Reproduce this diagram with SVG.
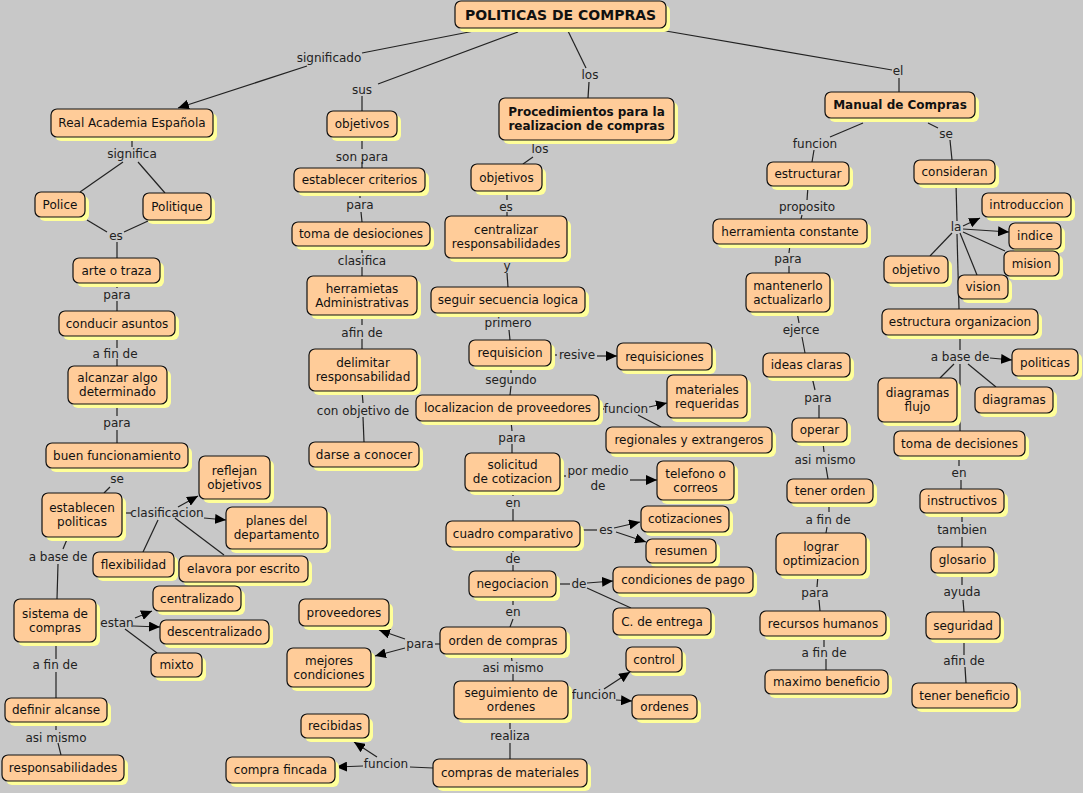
<svg xmlns="http://www.w3.org/2000/svg" width="1083" height="793" viewBox="0 0 1083 793">
<defs>
<style>
.sh{fill:#ffff99}
.bx{fill:#ffcc99;stroke:#111;stroke-width:1.2}
.t{font-family:"DejaVu Sans",Verdana,sans-serif;font-size:12px;fill:#111;text-anchor:middle}
.b{font-weight:bold}
.l{font-family:"DejaVu Sans",Verdana,sans-serif;font-size:12px;fill:#222;text-anchor:middle}
.c line{stroke:#222;stroke-width:1.2}
.a{marker-end:url(#ah)}
</style>
<marker id="ah" markerUnits="userSpaceOnUse" markerWidth="12" markerHeight="10" refX="11" refY="5" orient="auto" viewBox="0 0 12 10"><path d="M0,0 L11,5 L0,10 z" fill="#000"/></marker>
</defs>
<rect x="0" y="0" width="1083" height="793" fill="#c8c8c8"/>

<g id="connectors" class="c">
<line x1="474" y1="31" x2="362" y2="53"/>
<line class="a" x1="307" y1="66" x2="178" y2="108"/>
<line x1="518" y1="32" x2="378" y2="84"/>
<line x1="362" y1="96" x2="362" y2="111"/>
<line x1="568" y1="31" x2="586" y2="68"/>
<line x1="589" y1="82" x2="588" y2="98"/>
<line x1="660" y1="30" x2="892" y2="70"/>
<line x1="899" y1="78" x2="899" y2="92"/>
<!-- col1 -->
<line x1="132" y1="137" x2="132" y2="147"/>
<line x1="123" y1="162" x2="80" y2="192"/>
<line x1="138" y1="162" x2="165" y2="193"/>
<line x1="87" y1="220" x2="107" y2="232"/>
<line x1="148" y1="221" x2="124" y2="232"/>
<line x1="117" y1="242" x2="117" y2="258"/>
<line x1="117" y1="283" x2="117" y2="288"/>
<line x1="117" y1="301" x2="117" y2="311"/>
<line x1="117" y1="336" x2="117" y2="348"/>
<line x1="117" y1="359" x2="117" y2="366"/>
<line x1="117" y1="404" x2="117" y2="416"/>
<line x1="117" y1="430" x2="117" y2="443"/>
<line x1="117" y1="468" x2="117" y2="472"/>
<line x1="110" y1="487" x2="104" y2="493"/>
<line x1="122" y1="513" x2="131" y2="513"/>
<line class="a" x1="178" y1="507" x2="198" y2="496"/>
<line class="a" x1="204" y1="518" x2="226" y2="520"/>
<line x1="158" y1="520" x2="143" y2="552"/>
<line x1="175" y1="518" x2="224" y2="555"/>
<line x1="68" y1="537" x2="63" y2="549"/>
<line x1="58" y1="564" x2="57" y2="599"/>
<line class="a" x1="135" y1="618" x2="152" y2="611"/>
<line class="a" x1="133" y1="626" x2="160" y2="627"/>
<line x1="125" y1="629" x2="157" y2="653"/>
<line x1="56" y1="642" x2="56" y2="659"/>
<line x1="56" y1="672" x2="56" y2="698"/>
<line x1="56" y1="722" x2="56" y2="730"/>
<line x1="58" y1="743" x2="61" y2="755"/>
<!-- col2 -->
<line x1="362" y1="137" x2="362" y2="149"/>
<line x1="362" y1="162" x2="362" y2="168"/>
<line x1="360" y1="192" x2="360" y2="198"/>
<line x1="361" y1="212" x2="362" y2="222"/>
<line x1="362" y1="246" x2="362" y2="253"/>
<line x1="362" y1="267" x2="362" y2="276"/>
<line x1="362" y1="315" x2="362" y2="325"/>
<line x1="362" y1="339" x2="362" y2="349"/>
<line x1="362" y1="391" x2="363" y2="403"/>
<line x1="363" y1="417" x2="364" y2="442"/>
<!-- col3 -->
<line x1="542" y1="140" x2="542" y2="143"/>
<line x1="533" y1="157" x2="523" y2="164"/>
<line x1="507" y1="191" x2="507" y2="200"/>
<line x1="507" y1="212" x2="507" y2="216"/>
<line x1="507" y1="258" x2="507" y2="262"/>
<line x1="507" y1="273" x2="508" y2="287"/>
<line x1="508" y1="313" x2="508" y2="316"/>
<line x1="509" y1="330" x2="510" y2="340"/>
<line x1="551" y1="355" x2="557" y2="355"/>
<line class="a" x1="597" y1="356" x2="617" y2="356"/>
<line x1="511" y1="366" x2="511" y2="373"/>
<line x1="511" y1="386" x2="510" y2="395"/>
<line x1="599" y1="409" x2="604" y2="409"/>
<line class="a" x1="649" y1="407" x2="667" y2="403"/>
<line x1="638" y1="415" x2="661" y2="427"/>
<line x1="511" y1="421" x2="512" y2="431"/>
<line x1="512" y1="444" x2="512" y2="453"/>
<line x1="560" y1="476" x2="566" y2="476"/>
<line class="a" x1="630" y1="480" x2="657" y2="480"/>
<line x1="513" y1="491" x2="513" y2="496"/>
<line x1="513" y1="509" x2="513" y2="521"/>
<line x1="580" y1="530" x2="597" y2="530"/>
<line class="a" x1="614" y1="528" x2="640" y2="522"/>
<line class="a" x1="616" y1="532" x2="646" y2="542"/>
<line x1="513" y1="547" x2="513" y2="552"/>
<line x1="513" y1="565" x2="513" y2="571"/>
<line x1="556" y1="584" x2="570" y2="584"/>
<line class="a" x1="587" y1="583" x2="613" y2="581"/>
<line x1="587" y1="588" x2="631" y2="608"/>
<line x1="513" y1="597" x2="513" y2="605"/>
<line x1="513" y1="619" x2="510" y2="627"/>
<line x1="435" y1="644" x2="440" y2="644"/>
<line class="a" x1="405" y1="639" x2="379" y2="630"/>
<line class="a" x1="405" y1="648" x2="375" y2="656"/>
<line x1="511" y1="654" x2="512" y2="661"/>
<line x1="513" y1="674" x2="513" y2="681"/>
<line x1="568" y1="695" x2="571" y2="695"/>
<line class="a" x1="604" y1="689" x2="630" y2="672"/>
<line class="a" x1="616" y1="700" x2="632" y2="701"/>
<line x1="510" y1="719" x2="510" y2="729"/>
<line x1="510" y1="743" x2="510" y2="759"/>
<line x1="433" y1="768" x2="410" y2="767"/>
<line class="a" x1="363" y1="766" x2="336" y2="767"/>
<line class="a" x1="377" y1="757" x2="354" y2="742"/>
<!-- col4 -->
<line x1="863" y1="123" x2="830" y2="137"/>
<line x1="814" y1="150" x2="812" y2="162"/>
<line x1="928" y1="123" x2="938" y2="128"/>
<line x1="950" y1="140" x2="952" y2="160"/>
<line x1="808" y1="186" x2="807" y2="200"/>
<line x1="802" y1="215" x2="801" y2="219"/>
<line x1="790" y1="244" x2="789" y2="253"/>
<line x1="789" y1="266" x2="789" y2="273"/>
<line x1="797" y1="312" x2="799" y2="323"/>
<line x1="802" y1="337" x2="805" y2="353"/>
<line x1="812" y1="377" x2="815" y2="390"/>
<line x1="819" y1="405" x2="819" y2="418"/>
<line x1="823" y1="442" x2="824" y2="452"/>
<line x1="826" y1="467" x2="828" y2="479"/>
<line x1="829" y1="503" x2="829" y2="512"/>
<line x1="827" y1="527" x2="826" y2="533"/>
<line x1="818" y1="575" x2="817" y2="587"/>
<line x1="819" y1="600" x2="820" y2="611"/>
<line x1="824" y1="636" x2="824" y2="647"/>
<line x1="826" y1="659" x2="826" y2="670"/>
<line x1="956" y1="184" x2="957" y2="221"/>
<line class="a" x1="963" y1="226" x2="980" y2="218"/>
<line class="a" x1="963" y1="229" x2="1009" y2="232"/>
<line x1="963" y1="232" x2="1005" y2="251"/>
<line x1="952" y1="233" x2="930" y2="256"/>
<line x1="960" y1="233" x2="977" y2="275"/>
<line x1="957" y1="234" x2="959" y2="309"/>
<line x1="960" y1="335" x2="960" y2="350"/>
<line class="a" x1="990" y1="358" x2="1012" y2="360"/>
<line x1="954" y1="364" x2="940" y2="378"/>
<line x1="968" y1="364" x2="996" y2="387"/>
<line x1="960" y1="364" x2="960" y2="431"/>
<line x1="959" y1="456" x2="959" y2="466"/>
<line x1="961" y1="480" x2="961" y2="489"/>
<line x1="962" y1="513" x2="962" y2="522"/>
<line x1="962" y1="537" x2="962" y2="547"/>
<line x1="962" y1="573" x2="962" y2="585"/>
<line x1="963" y1="600" x2="964" y2="612"/>
<line x1="964" y1="639" x2="964" y2="655"/>
<line x1="965" y1="667" x2="966" y2="683"/>
</g>

<g id="labels">
<text class="l" x="329" y="62">significado</text>
<text class="l" x="362" y="94">sus</text>
<text class="l" x="590" y="79">los</text>
<text class="l" x="898" y="75">el</text>
<text class="l" x="132" y="158">significa</text>
<text class="l" x="116" y="240">es</text>
<text class="l" x="117" y="299">para</text>
<text class="l" x="115" y="358">a fin de</text>
<text class="l" x="117" y="427">para</text>
<text class="l" x="117" y="483">se</text>
<text class="l" x="167" y="517">clasificacion</text>
<text class="l" x="58" y="561">a base de</text>
<text class="l" x="117" y="627">estan</text>
<text class="l" x="55" y="669">a fin de</text>
<text class="l" x="56" y="742">asi mismo</text>
<text class="l" x="362" y="161">son para</text>
<text class="l" x="360" y="209">para</text>
<text class="l" x="362" y="265">clasifica</text>
<text class="l" x="362" y="337">afin de</text>
<text class="l" x="363" y="415">con objetivo de</text>
<text class="l" x="540" y="153">los</text>
<text class="l" x="506" y="211">es</text>
<text class="l" x="507" y="270">y</text>
<text class="l" x="508" y="327">primero</text>
<text class="l" x="577" y="359">resive</text>
<text class="l" x="511" y="384">segundo</text>
<text class="l" x="626" y="413">funcion</text>
<text class="l" x="512" y="442">para</text>
<text class="l" x="598" y="475">por medio</text>
<text class="l" x="598" y="490">de</text>
<text class="l" x="513" y="507">en</text>
<text class="l" x="606" y="534">es</text>
<text class="l" x="513" y="563">de</text>
<text class="l" x="579" y="588">de</text>
<text class="l" x="513" y="616">en</text>
<text class="l" x="420" y="648">para</text>
<text class="l" x="513" y="672">asi mismo</text>
<text class="l" x="594" y="699">funcion</text>
<text class="l" x="510" y="740">realiza</text>
<text class="l" x="386" y="768">funcion</text>
<text class="l" x="815" y="148">funcion</text>
<text class="l" x="946" y="138">se</text>
<text class="l" x="807" y="211">proposito</text>
<text class="l" x="788" y="263">para</text>
<text class="l" x="801" y="334">ejerce</text>
<text class="l" x="818" y="402">para</text>
<text class="l" x="825" y="464">asi mismo</text>
<text class="l" x="828" y="524">a fin de</text>
<text class="l" x="815" y="597">para</text>
<text class="l" x="824" y="657">a fin de</text>
<text class="l" x="956" y="231">la</text>
<text class="l" x="960" y="361">a base de</text>
<text class="l" x="959" y="477">en</text>
<text class="l" x="962" y="534">tambien</text>
<text class="l" x="962" y="596">ayuda</text>
<text class="l" x="964" y="665">afin de</text>
</g>

<g id="n-title"><rect class="sh" x="459" y="5" width="211" height="27" rx="6"/><rect class="bx" x="455" y="1" width="211" height="27" rx="6"/><text class="t b" style="font-size:14px" x="560.5" y="19.5">POLITICAS DE COMPRAS</text></g>
<g id="n-rea"><rect class="sh" x="55" y="113" width="162" height="28" rx="6"/><rect class="bx" x="51" y="109" width="162" height="28" rx="6"/><text class="t" x="132" y="127">Real Academia Española</text></g>
<g id="n-police"><rect class="sh" x="39" y="196" width="50" height="25" rx="6"/><rect class="bx" x="35" y="192" width="50" height="25" rx="6"/><text class="t" x="60" y="208.5">Police</text></g>
<g id="n-politique"><rect class="sh" x="147" y="197" width="68" height="27" rx="6"/><rect class="bx" x="143" y="193" width="68" height="27" rx="6"/><text class="t" x="177" y="211">Politique</text></g>
<g id="n-arte"><rect class="sh" x="77" y="262" width="87" height="25" rx="6"/><rect class="bx" x="73" y="258" width="87" height="25" rx="6"/><text class="t" x="116.5" y="274.5">arte o traza</text></g>
<g id="n-conducir"><rect class="sh" x="63" y="315" width="116" height="25" rx="6"/><rect class="bx" x="59" y="311" width="116" height="25" rx="6"/><text class="t" x="117" y="327.5">conducir asuntos</text></g>
<g id="n-alcanzar"><rect class="sh" x="72" y="370" width="99" height="38" rx="6"/><rect class="bx" x="68" y="366" width="99" height="38" rx="6"/><text class="t" x="117.5" y="382">alcanzar algo</text><text class="t" x="117.5" y="396">determinado</text></g>
<g id="n-buen"><rect class="sh" x="50" y="447" width="142" height="25" rx="6"/><rect class="bx" x="46" y="443" width="142" height="25" rx="6"/><text class="t" x="117" y="459.5">buen funcionamiento</text></g>
<g id="n-establecen"><rect class="sh" x="46" y="497" width="80" height="44" rx="6"/><rect class="bx" x="42" y="493" width="80" height="44" rx="6"/><text class="t" x="82" y="512">establecen</text><text class="t" x="82" y="526">politicas</text></g>
<g id="n-reflejan"><rect class="sh" x="203" y="460" width="71" height="43" rx="6"/><rect class="bx" x="199" y="456" width="71" height="43" rx="6"/><text class="t" x="234.5" y="474.5">reflejan</text><text class="t" x="234.5" y="488.5">objetivos</text></g>
<g id="n-planes"><rect class="sh" x="230" y="511" width="101" height="42" rx="6"/><rect class="bx" x="226" y="507" width="101" height="42" rx="6"/><text class="t" x="276.5" y="525">planes del</text><text class="t" x="276.5" y="539">departamento</text></g>
<g id="n-flexibilidad"><rect class="sh" x="97" y="556" width="81" height="25" rx="6"/><rect class="bx" x="93" y="552" width="81" height="25" rx="6"/><text class="t" x="133.5" y="568.5">flexibilidad</text></g>
<g id="n-elavora"><rect class="sh" x="183" y="560" width="129" height="26" rx="6"/><rect class="bx" x="179" y="556" width="129" height="26" rx="6"/><text class="t" x="243.5" y="573">elavora por escrito</text></g>
<g id="n-sistema"><rect class="sh" x="18" y="603" width="82" height="43" rx="6"/><rect class="bx" x="14" y="599" width="82" height="43" rx="6"/><text class="t" x="55" y="617.5">sistema de</text><text class="t" x="55" y="631.5">compras</text></g>
<g id="n-centralizado"><rect class="sh" x="157" y="590" width="88" height="25" rx="6"/><rect class="bx" x="153" y="586" width="88" height="25" rx="6"/><text class="t" x="197" y="602.5">centralizado</text></g>
<g id="n-descentralizado"><rect class="sh" x="164" y="624" width="109" height="24" rx="6"/><rect class="bx" x="160" y="620" width="109" height="24" rx="6"/><text class="t" x="214.5" y="636">descentralizado</text></g>
<g id="n-mixto"><rect class="sh" x="155" y="657" width="51" height="24" rx="6"/><rect class="bx" x="151" y="653" width="51" height="24" rx="6"/><text class="t" x="176.5" y="669">mixto</text></g>
<g id="n-definir"><rect class="sh" x="9" y="702" width="102" height="24" rx="6"/><rect class="bx" x="5" y="698" width="102" height="24" rx="6"/><text class="t" x="56" y="714">definir alcanse</text></g>
<g id="n-responsabilidades"><rect class="sh" x="6" y="759" width="122" height="26" rx="6"/><rect class="bx" x="2" y="755" width="122" height="26" rx="6"/><text class="t" x="63" y="772">responsabilidades</text></g>

<g id="n-objetivos1"><rect class="sh" x="331" y="115" width="70" height="26" rx="6"/><rect class="bx" x="327" y="111" width="70" height="26" rx="6"/><text class="t" x="362" y="128">objetivos</text></g>
<g id="n-establecer"><rect class="sh" x="298" y="172" width="131" height="24" rx="6"/><rect class="bx" x="294" y="168" width="131" height="24" rx="6"/><text class="t" x="359.5" y="184">establecer criterios</text></g>
<g id="n-toma1"><rect class="sh" x="296" y="226" width="138" height="24" rx="6"/><rect class="bx" x="292" y="222" width="138" height="24" rx="6"/><text class="t" x="361" y="238">toma de desiociones</text></g>
<g id="n-herramietas"><rect class="sh" x="311" y="280" width="110" height="39" rx="6"/><rect class="bx" x="307" y="276" width="110" height="39" rx="6"/><text class="t" x="362" y="292.5">herramietas</text><text class="t" x="362" y="306.5">Administrativas</text></g>
<g id="n-delimitar"><rect class="sh" x="313" y="353" width="108" height="42" rx="6"/><rect class="bx" x="309" y="349" width="108" height="42" rx="6"/><text class="t" x="363" y="367">delimitar</text><text class="t" x="363" y="381">responsabilidad</text></g>
<g id="n-darse"><rect class="sh" x="313" y="446" width="110" height="25" rx="6"/><rect class="bx" x="309" y="442" width="110" height="25" rx="6"/><text class="t" x="364" y="458.5">darse a conocer</text></g>

<g id="n-procedimientos"><rect class="sh" x="503" y="102" width="175" height="42" rx="6"/><rect class="bx" x="499" y="98" width="175" height="42" rx="6"/><text class="t b" x="586.5" y="115.5">Procedimientos para la</text><text class="t b" x="586.5" y="130">realizacion de compras</text></g>
<g id="n-objetivos2"><rect class="sh" x="475" y="168" width="71" height="27" rx="6"/><rect class="bx" x="471" y="164" width="71" height="27" rx="6"/><text class="t" x="506.5" y="181.5">objetivos</text></g>
<g id="n-centralizar"><rect class="sh" x="449" y="220" width="122" height="42" rx="6"/><rect class="bx" x="445" y="216" width="122" height="42" rx="6"/><text class="t" x="506" y="234">centralizar</text><text class="t" x="506" y="248">responsabilidades</text></g>
<g id="n-seguir"><rect class="sh" x="435" y="291" width="154" height="26" rx="6"/><rect class="bx" x="431" y="287" width="154" height="26" rx="6"/><text class="t" x="508" y="304">seguir secuencia logica</text></g>
<g id="n-requisicion"><rect class="sh" x="473" y="344" width="82" height="26" rx="6"/><rect class="bx" x="469" y="340" width="82" height="26" rx="6"/><text class="t" x="510" y="357">requisicion</text></g>
<g id="n-requisiciones"><rect class="sh" x="621" y="347" width="95" height="27" rx="6"/><rect class="bx" x="617" y="343" width="95" height="27" rx="6"/><text class="t" x="664.5" y="360.5">requisiciones</text></g>
<g id="n-localizacion"><rect class="sh" x="420" y="399" width="183" height="26" rx="6"/><rect class="bx" x="416" y="395" width="183" height="26" rx="6"/><text class="t" x="507.5" y="412">localizacion de proveedores</text></g>
<g id="n-materiales"><rect class="sh" x="671" y="379" width="80" height="43" rx="6"/><rect class="bx" x="667" y="375" width="80" height="43" rx="6"/><text class="t" x="707" y="393.5">materiales</text><text class="t" x="707" y="407.5">requeridas</text></g>
<g id="n-regionales"><rect class="sh" x="610" y="431" width="166" height="26" rx="6"/><rect class="bx" x="606" y="427" width="166" height="26" rx="6"/><text class="t" x="689" y="444">regionales y extrangeros</text></g>
<g id="n-solicitud"><rect class="sh" x="469" y="457" width="95" height="38" rx="6"/><rect class="bx" x="465" y="453" width="95" height="38" rx="6"/><text class="t" x="512.5" y="469">solicitud</text><text class="t" x="512.5" y="483">de cotizacion</text></g>
<g id="n-telefono"><rect class="sh" x="661" y="465" width="77" height="39" rx="6"/><rect class="bx" x="657" y="461" width="77" height="39" rx="6"/><text class="t" x="695.5" y="477.5">telefono o</text><text class="t" x="695.5" y="491.5">correos</text></g>
<g id="n-cuadro"><rect class="sh" x="450" y="525" width="134" height="26" rx="6"/><rect class="bx" x="446" y="521" width="134" height="26" rx="6"/><text class="t" x="513" y="538">cuadro comparativo</text></g>
<g id="n-cotizaciones"><rect class="sh" x="645" y="510" width="88" height="26" rx="6"/><rect class="bx" x="641" y="506" width="88" height="26" rx="6"/><text class="t" x="685" y="523">cotizaciones</text></g>
<g id="n-resumen"><rect class="sh" x="650" y="543" width="70" height="24" rx="6"/><rect class="bx" x="646" y="539" width="70" height="24" rx="6"/><text class="t" x="681" y="555">resumen</text></g>
<g id="n-negociacion"><rect class="sh" x="473" y="575" width="87" height="26" rx="6"/><rect class="bx" x="469" y="571" width="87" height="26" rx="6"/><text class="t" x="512.5" y="588">negociacion</text></g>
<g id="n-condiciones"><rect class="sh" x="617" y="571" width="140" height="26" rx="6"/><rect class="bx" x="613" y="567" width="140" height="26" rx="6"/><text class="t" x="683" y="584">condiciones de pago</text></g>
<g id="n-centrega"><rect class="sh" x="617" y="612" width="98" height="27" rx="6"/><rect class="bx" x="613" y="608" width="98" height="27" rx="6"/><text class="t" x="662" y="625.5">C. de entrega</text></g>
<g id="n-orden"><rect class="sh" x="444" y="631" width="126" height="27" rx="6"/><rect class="bx" x="440" y="627" width="126" height="27" rx="6"/><text class="t" x="503" y="644.5">orden de compras</text></g>
<g id="n-proveedores"><rect class="sh" x="303" y="603" width="90" height="27" rx="6"/><rect class="bx" x="299" y="599" width="90" height="27" rx="6"/><text class="t" x="344" y="616.5">proveedores</text></g>
<g id="n-mejores"><rect class="sh" x="291" y="652" width="84" height="39" rx="6"/><rect class="bx" x="287" y="648" width="84" height="39" rx="6"/><text class="t" x="329" y="664.5">mejores</text><text class="t" x="329" y="678.5">condiciones</text></g>
<g id="n-seguimiento"><rect class="sh" x="458" y="685" width="114" height="38" rx="6"/><rect class="bx" x="454" y="681" width="114" height="38" rx="6"/><text class="t" x="511" y="697">seguimiento de</text><text class="t" x="511" y="711">ordenes</text></g>
<g id="n-control"><rect class="sh" x="630" y="651" width="56" height="25" rx="6"/><rect class="bx" x="626" y="647" width="56" height="25" rx="6"/><text class="t" x="654" y="663.5">control</text></g>
<g id="n-ordenes"><rect class="sh" x="636" y="699" width="65" height="24" rx="6"/><rect class="bx" x="632" y="695" width="65" height="24" rx="6"/><text class="t" x="664.5" y="711">ordenes</text></g>
<g id="n-comprasmat"><rect class="sh" x="437" y="763" width="154" height="28" rx="6"/><rect class="bx" x="433" y="759" width="154" height="28" rx="6"/><text class="t" x="510" y="777">compras de materiales</text></g>
<g id="n-comprafincada"><rect class="sh" x="230" y="761" width="109" height="26" rx="6"/><rect class="bx" x="226" y="757" width="109" height="26" rx="6"/><text class="t" x="280.5" y="774">compra fincada</text></g>
<g id="n-recibidas"><rect class="sh" x="305" y="718" width="68" height="24" rx="6"/><rect class="bx" x="301" y="714" width="68" height="24" rx="6"/><text class="t" x="335" y="730">recibidas</text></g>

<g id="n-manual"><rect class="sh" x="829" y="96" width="150" height="26" rx="6"/><rect class="bx" x="825" y="92" width="150" height="26" rx="6"/><text class="t b" x="900" y="109">Manual de Compras</text></g>
<g id="n-estructurar"><rect class="sh" x="771" y="166" width="82" height="24" rx="6"/><rect class="bx" x="767" y="162" width="82" height="24" rx="6"/><text class="t" x="808" y="178">estructurar</text></g>
<g id="n-herramienta"><rect class="sh" x="717" y="223" width="154" height="25" rx="6"/><rect class="bx" x="713" y="219" width="154" height="25" rx="6"/><text class="t" x="790" y="235.5">herramienta constante</text></g>
<g id="n-mantenerlo"><rect class="sh" x="750" y="277" width="84" height="39" rx="6"/><rect class="bx" x="746" y="273" width="84" height="39" rx="6"/><text class="t" x="788" y="289.5">mantenerlo</text><text class="t" x="788" y="303.5">actualizarlo</text></g>
<g id="n-ideas"><rect class="sh" x="767" y="357" width="87" height="24" rx="6"/><rect class="bx" x="763" y="353" width="87" height="24" rx="6"/><text class="t" x="806.5" y="369">ideas claras</text></g>
<g id="n-operar"><rect class="sh" x="796" y="422" width="55" height="24" rx="6"/><rect class="bx" x="792" y="418" width="55" height="24" rx="6"/><text class="t" x="819.5" y="434">operar</text></g>
<g id="n-tenerorden"><rect class="sh" x="791" y="483" width="86" height="24" rx="6"/><rect class="bx" x="787" y="479" width="86" height="24" rx="6"/><text class="t" x="830" y="495">tener orden</text></g>
<g id="n-lograr"><rect class="sh" x="780" y="537" width="90" height="42" rx="6"/><rect class="bx" x="776" y="533" width="90" height="42" rx="6"/><text class="t" x="821" y="551">lograr</text><text class="t" x="821" y="565">optimizacion</text></g>
<g id="n-recursos"><rect class="sh" x="764" y="615" width="126" height="25" rx="6"/><rect class="bx" x="760" y="611" width="126" height="25" rx="6"/><text class="t" x="823" y="627.5">recursos humanos</text></g>
<g id="n-maximo"><rect class="sh" x="769" y="674" width="123" height="24" rx="6"/><rect class="bx" x="765" y="670" width="123" height="24" rx="6"/><text class="t" x="826.5" y="686">maximo beneficio</text></g>
<g id="n-consideran"><rect class="sh" x="918" y="164" width="81" height="24" rx="6"/><rect class="bx" x="914" y="160" width="81" height="24" rx="6"/><text class="t" x="954.5" y="176">consideran</text></g>
<g id="n-introduccion"><rect class="sh" x="986" y="197" width="89" height="24" rx="6"/><rect class="bx" x="982" y="193" width="89" height="24" rx="6"/><text class="t" x="1026.5" y="209">introduccion</text></g>
<g id="n-indice"><rect class="sh" x="1013" y="227" width="52" height="26" rx="6"/><rect class="bx" x="1009" y="223" width="52" height="26" rx="6"/><text class="t" x="1035" y="240">indice</text></g>
<g id="n-mision"><rect class="sh" x="1008" y="255" width="55" height="25" rx="6"/><rect class="bx" x="1004" y="251" width="55" height="25" rx="6"/><text class="t" x="1031.5" y="267.5">mision</text></g>
<g id="n-objetivo"><rect class="sh" x="888" y="260" width="64" height="27" rx="6"/><rect class="bx" x="884" y="256" width="64" height="27" rx="6"/><text class="t" x="916" y="273.5">objetivo</text></g>
<g id="n-vision"><rect class="sh" x="962" y="279" width="50" height="24" rx="6"/><rect class="bx" x="958" y="275" width="50" height="24" rx="6"/><text class="t" x="983" y="291">vision</text></g>
<g id="n-estructura"><rect class="sh" x="886" y="313" width="156" height="26" rx="6"/><rect class="bx" x="882" y="309" width="156" height="26" rx="6"/><text class="t" x="960" y="326">estructura organizacion</text></g>
<g id="n-politicas"><rect class="sh" x="1016" y="353" width="66" height="27" rx="6"/><rect class="bx" x="1012" y="349" width="66" height="27" rx="6"/><text class="t" x="1045" y="366.5">politicas</text></g>
<g id="n-diagramasflujo"><rect class="sh" x="882" y="382" width="79" height="44" rx="6"/><rect class="bx" x="878" y="378" width="79" height="44" rx="6"/><text class="t" x="917.5" y="397">diagramas</text><text class="t" x="917.5" y="411">flujo</text></g>
<g id="n-diagramas"><rect class="sh" x="979" y="391" width="78" height="26" rx="6"/><rect class="bx" x="975" y="387" width="78" height="26" rx="6"/><text class="t" x="1014" y="404">diagramas</text></g>
<g id="n-toma2"><rect class="sh" x="898" y="435" width="131" height="25" rx="6"/><rect class="bx" x="894" y="431" width="131" height="25" rx="6"/><text class="t" x="959.5" y="447.5">toma de decisiones</text></g>
<g id="n-instructivos"><rect class="sh" x="924" y="493" width="84" height="24" rx="6"/><rect class="bx" x="920" y="489" width="84" height="24" rx="6"/><text class="t" x="962" y="505">instructivos</text></g>
<g id="n-glosario"><rect class="sh" x="935" y="551" width="63" height="26" rx="6"/><rect class="bx" x="931" y="547" width="63" height="26" rx="6"/><text class="t" x="962.5" y="564">glosario</text></g>
<g id="n-seguridad"><rect class="sh" x="930" y="616" width="74" height="27" rx="6"/><rect class="bx" x="926" y="612" width="74" height="27" rx="6"/><text class="t" x="963" y="629.5">seguridad</text></g>
<g id="n-tenerbeneficio"><rect class="sh" x="916" y="687" width="105" height="25" rx="6"/><rect class="bx" x="912" y="683" width="105" height="25" rx="6"/><text class="t" x="964.5" y="699.5">tener beneficio</text></g>
</svg>
